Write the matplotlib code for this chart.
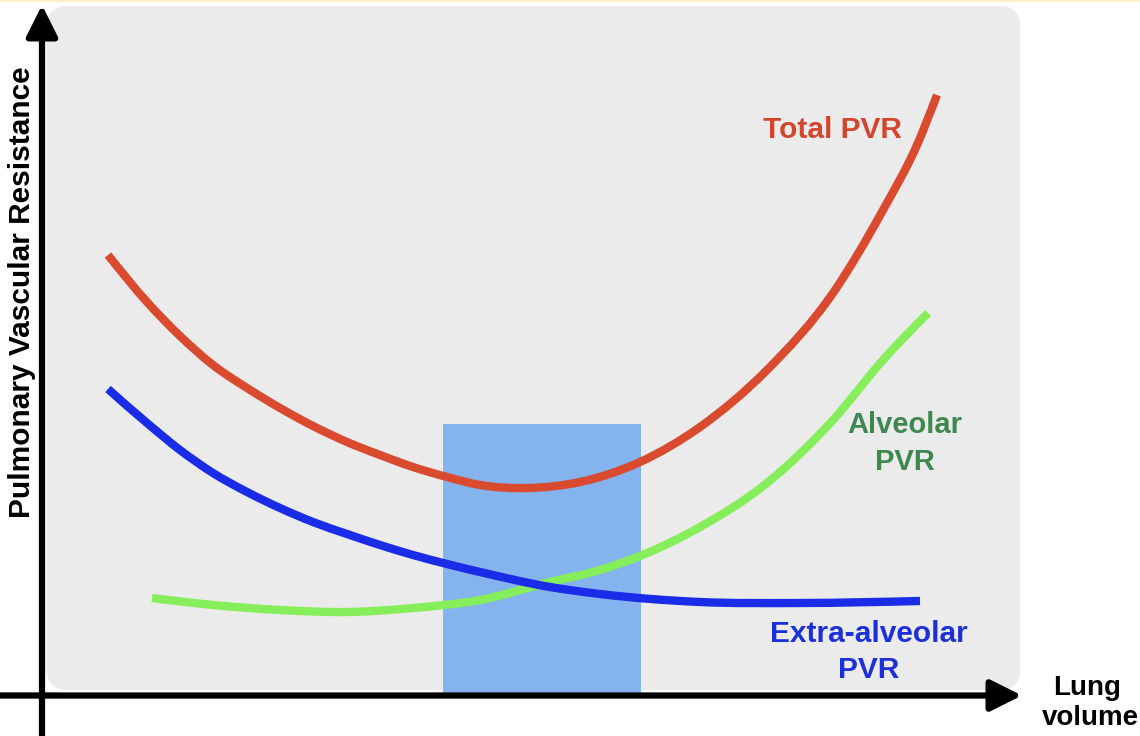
import matplotlib
matplotlib.use("Agg")
import matplotlib.pyplot as plt
import numpy as np
from matplotlib.patches import FancyBboxPatch, PathPatch
from matplotlib.path import Path

plt.rcParams['font.family'] = ['Liberation Sans', 'DejaVu Sans']

# ---- data (arbitrary units: lung volume vs resistance) ----
total_x = [6.6, 10.5, 13.8, 17.1, 20.5, 23.8, 27.1, 30.5, 33.8, 37.1, 40.5, 43.8,
           48.5, 53.8, 59.8, 65.8, 72.5, 79.1, 84.1, 87.5, 89.5]
total_y = [44.0, 39.3, 35.9, 33.0, 30.7, 28.7, 26.9, 25.3, 24.0, 22.8, 21.8, 21.0,
           20.7, 21.3, 23.3, 26.8, 32.5, 40.2, 48.5, 55.0, 60.0]

extra_x = [6.6, 10.5, 13.8, 17.1, 20.5, 23.8, 27.1, 30.5, 33.8, 37.1, 40.5, 43.8,
           50.8, 55.8, 65.8, 75.8, 87.8]
extra_y = [30.6, 27.2, 24.5, 22.2, 20.3, 18.7, 17.3, 16.1, 15.0, 14.0, 13.1, 12.3,
           10.8, 10.1, 9.3, 9.2, 9.4]

alv_x = [11.0, 17.1, 23.8, 30.5, 37.1, 43.8, 50.8, 55.8, 59.8, 65.8, 72.5, 79.1, 84.1, 88.6]
alv_y = [9.7, 9.0, 8.5, 8.3, 8.7, 9.5, 11.3, 12.5, 13.9, 16.8, 21.2, 27.5, 33.5, 38.2]

zone_start, zone_end, zone_top = 40.1, 59.9, 27.1


def smooth_path(xs, ys):
    """Cubic Hermite curve through the points (x-parameterised), as Bezier segments."""
    x = np.asarray(xs, float)
    y = np.asarray(ys, float)
    h = np.diff(x)
    d = np.diff(y) / h
    m = np.empty_like(x)
    m[1:-1] = (d[:-1] * h[1:] + d[1:] * h[:-1]) / (h[:-1] + h[1:])
    m[0] = 1.5 * d[0] - 0.5 * m[1]
    m[-1] = 1.5 * d[-1] - 0.5 * m[-2]
    verts = [(x[0], y[0])]
    codes = [Path.MOVETO]
    for i in range(len(x) - 1):
        t = h[i] / 3.0
        verts += [(x[i] + t, y[i] + m[i] * t),
                  (x[i + 1] - t, y[i + 1] - m[i + 1] * t),
                  (x[i + 1], y[i + 1])]
        codes += [Path.CURVE4] * 3
    return Path(verts, codes)


# ---- figure ----
fig = plt.figure(figsize=(11.4, 7.36), dpi=100)
ax = fig.add_axes([0, 0, 1, 1])
ax.set_xlim(-4.2, 109.8)
ax.set_ylim(-4.1, 69.5)
ax.axis('off')

# background panel
bg = FancyBboxPatch((0.5, 0.5), 97.3, 68.4,
                    boxstyle="round,pad=0,rounding_size=2.0",
                    facecolor='#EBEBEB', edgecolor='none', zorder=0)
ax.add_patch(bg)
ax.axhline(69.45, color='#FBEFC8', lw=2, zorder=0)

# optimal zone
ax.bar([(zone_start + zone_end) / 2], [zone_top], width=zone_end - zone_start,
       bottom=0, color='#85B3EE', zorder=1)

lw = 6.0
for xs, ys, col, z in [(alv_x, alv_y, '#86EE5B', 2),
                       (total_x, total_y, '#DA4A2E', 3),
                       (extra_x, extra_y, '#1B2CE8', 4)]:
    ax.add_patch(PathPatch(smooth_path(xs, ys), facecolor='none', edgecolor=col,
                           lw=lw, capstyle='butt', joinstyle='round', zorder=z))

# axes arrows
arrow = dict(arrowstyle='-|>,head_length=1.9,head_width=0.95', lw=4.5,
             color='black', shrinkA=0, shrinkB=0, mutation_scale=10)
ax.annotate('', xy=(0, 69.0), xytext=(0, -4.2), arrowprops=arrow, zorder=5)
ax.annotate('', xy=(98.0, -0.05), xytext=(-4.3, -0.05), arrowprops=arrow, zorder=5)

# labels
ax.text(79.0, 55.7, 'Total PVR', color='#D4452D', fontsize=21.5,
        fontweight='bold', ha='center', va='baseline')
ax.text(86.3, 26.2, 'Alveolar', color='#3E8850', fontsize=21,
        fontweight='bold', ha='center', va='baseline')
ax.text(86.3, 22.5, 'PVR', color='#3E8850', fontsize=21,
        fontweight='bold', ha='center', va='baseline')
ax.text(82.7, 5.3, 'Extra-alveolar', color='#1C2FD8', fontsize=21.5,
        fontweight='bold', ha='center', va='baseline')
ax.text(82.7, 1.7, 'PVR', color='#1C2FD8', fontsize=21.5,
        fontweight='bold', ha='center', va='baseline')
ax.text(104.5, 0.0, 'Lung', color='black', fontsize=20,
        fontweight='bold', ha='center', va='baseline')
ax.text(104.8, -3.0, 'volume', color='black', fontsize=20,
        fontweight='bold', ha='center', va='baseline')
ax.text(-2.0, 40.3, 'Pulmonary Vascular Resistance', color='black',
        fontsize=21.5, fontweight='bold', rotation=90, ha='center', va='center')

fig.savefig('out.png', dpi=100)
